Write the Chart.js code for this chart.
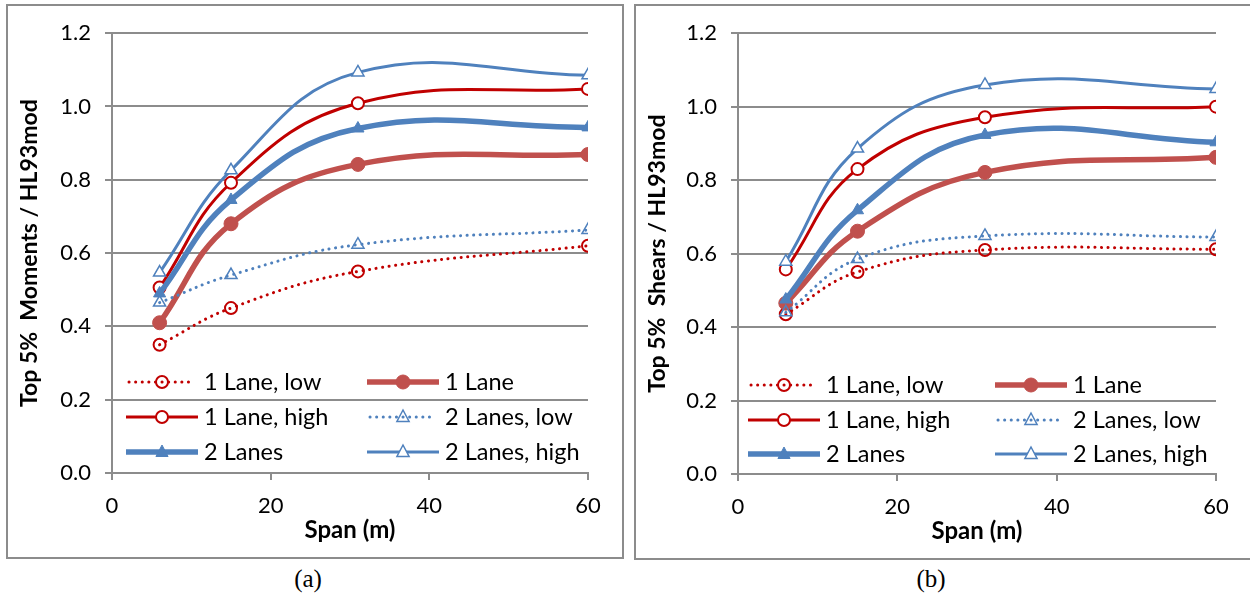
<!DOCTYPE html>
<html>
<head>
<meta charset="utf-8">
<script src="https://cdn.jsdelivr.net/npm/chart.js@4.4.1/dist/chart.umd.min.js"></script>
<style>
  body { margin: 0; background: #fff; width: 1250px; height: 605px; position: relative; overflow: hidden; font-family: Lato, sans-serif; }
  .panel { position: absolute; border: 2px solid #8c8c8c; box-sizing: content-box; }
  .panel canvas { display: block; }
  .cap { position: absolute; font-family: "Liberation Serif", serif; font-size: 25px; transform: translateX(-50%); }
  .lg { position: absolute; font-size: 23.5px; line-height: 26px; white-space: nowrap; color: #000; }
  .sw { position: absolute; }
</style>
</head>
<body>
<div class="panel" id="p1" style="left:6px; top:4px; width:614px; height:551px;"><canvas id="momentsChart"></canvas></div>
<div class="panel" id="p2" style="left:634px; top:4px; width:620px; height:552px;"><canvas id="shearsChart"></canvas></div>
<div class="cap" style="left:308px; top:565px;">(a)</div>
<div class="cap" style="left:931px; top:565px;">(b)</div>
<script>
// spans (m)
const spans = [6, 15, 31, 60];
const xTicks = [0, 20, 40, 60];
const yTicks = [0, 0.2, 0.4, 0.6, 0.8, 1.0, 1.2];

const seriesNames = ["1 Lane, low", "1 Lane", "1 Lane, high", "2 Lanes, low", "2 Lanes", "2 Lanes, high"];

// (a) moments
const momLow1 = [0.35, 0.45, 0.55, 0.62];
const mom1 = [0.41, 0.68, 0.842, 0.869];
const momHigh1 = [0.506, 0.792, 1.009, 1.048];
const momLow2 = [0.465, 0.54, 0.623, 0.663];
const mom2 = [0.49, 0.745, 0.94, 0.943];
const momHigh2 = [0.547, 0.826, 1.093, 1.085];

// (b) shears
const shrLow1 = [0.435, 0.55, 0.61, 0.612];
const shr1 = [0.465, 0.661, 0.821, 0.862];
const shrHigh1 = [0.557, 0.83, 0.971, 1.0];
const shrLow2 = [0.44, 0.585, 0.648, 0.645];
const shr2 = [0.475, 0.718, 0.923, 0.903];
const shrHigh2 = [0.578, 0.886, 1.059, 1.048];

const darkRed = "#C00000";
const red = "#C0504D";
const blue = "#4F81BD";
const gridGray = "#8c8c8c";

// line / marker look for each series, in legend order
const looks = [
  { color: darkRed, width: 3, dotted: true, marker: "circle", fill: "rgba(0,0,0,0)", r: 6, bw: 2 },
  { color: red, width: 5.5, dotted: false, marker: "circle", fill: red, r: 7, bw: 1 },
  { color: darkRed, width: 3, dotted: false, marker: "circle", fill: "#fff", r: 6, bw: 2 },
  { color: blue, width: 3, dotted: true, marker: "triangle", fill: "rgba(0,0,0,0)", r: 7, bw: 1.5 },
  { color: blue, width: 5.5, dotted: false, marker: "triangle", fill: blue, r: 7, bw: 1 },
  { color: blue, width: 3, dotted: false, marker: "triangle", fill: "#fff", r: 7, bw: 1.5 },
];

function makeDatasets(seriesList) {
  return seriesList.map((vals, i) => {
    const lk = looks[i];
    return {
      label: seriesNames[i],
      data: spans.map((s, j) => ({ x: s, y: vals[j] })),
      borderColor: lk.color,
      borderWidth: lk.width,
      borderDash: lk.dotted ? [0.1, 6.5] : [],
      borderCapStyle: lk.dotted ? "round" : "butt",
      tension: 0.42,
      fill: false,
      pointStyle: lk.marker,
      pointRadius: lk.r,
      pointBackgroundColor: lk.fill,
      pointBorderColor: lk.color,
      pointBorderWidth: lk.bw,
      order: 6 - i,
    };
  });
}

function makeChart(canvas, seriesList, yTitle, yWidth, padRight) {
  return new Chart(canvas, {
    type: "line",
    data: { datasets: makeDatasets(seriesList) },
    options: {
      animation: false,
      responsive: true,
      maintainAspectRatio: false,
      layout: { padding: { top: 27, right: padRight, bottom: 0, left: 0 } },
      plugins: { legend: { display: false }, tooltip: { enabled: false } },
      scales: {
        x: {
          type: "linear",
          min: 0,
          max: 60,
          afterBuildTicks: (scale) => { scale.ticks = xTicks.map((v) => ({ value: v })); },
          afterFit: (scale) => { scale.height = 84; },
          grid: { drawOnChartArea: false, color: gridGray, lineWidth: 2, tickLength: 7 },
          border: { color: gridGray, width: 2 },
          ticks: { color: "#000", padding: 13, font: { family: "Lato", size: 22 } },
          title: { display: true, text: "Span (m)", color: "#000", padding: { top: 0, bottom: 12 }, font: { family: "Lato", size: 24, weight: "bold" } },
        },
        y: {
          min: 0,
          max: 1.2,
          afterBuildTicks: (scale) => { scale.ticks = yTicks.map((v) => ({ value: v })); },
          afterFit: (scale) => { scale.width = yWidth; },
          grid: { color: gridGray, lineWidth: 2, tickLength: 7 },
          border: { color: gridGray, width: 2 },
          ticks: { color: "#000", padding: 14, font: { family: "Lato", size: 22 }, callback: (v) => Number(v).toFixed(1) },
          title: { display: true, text: yTitle, color: "#000", padding: { top: 8, bottom: 0 }, font: { family: "Lato", size: 23, weight: "bold" } },
        },
      },
    },
  });
}

makeChart(document.getElementById("momentsChart"), [momLow1, mom1, momHigh1, momLow2, mom2, momHigh2], "Top 5%  Moments / HL93mod", 104, 34);
makeChart(document.getElementById("shearsChart"), [shrLow1, shr1, shrHigh1, shrLow2, shr2, shrHigh2], "Top 5%  Shears / HL93mod", 102, 40);

// legends drawn as html, two columns, row-wise in series order
function swatch(lk) {
  const ns = "http://www.w3.org/2000/svg";
  const svg = document.createElementNS(ns, "svg");
  svg.setAttribute("width", "72");
  svg.setAttribute("height", "24");
  const ln = document.createElementNS(ns, "line");
  ln.setAttribute("x1", lk.dotted ? 3 : 0);
  ln.setAttribute("x2", lk.dotted ? 69 : 72);
  ln.setAttribute("y1", 12);
  ln.setAttribute("y2", 12);
  ln.setAttribute("stroke", lk.color);
  ln.setAttribute("stroke-width", lk.width);
  if (lk.dotted) {
    ln.setAttribute("stroke-dasharray", "0.1 6.5");
    ln.setAttribute("stroke-linecap", "round");
  }
  svg.appendChild(ln);
  let mk;
  if (lk.marker === "circle") {
    mk = document.createElementNS(ns, "circle");
    mk.setAttribute("cx", 36);
    mk.setAttribute("cy", 12);
    mk.setAttribute("r", lk.r);
  } else {
    mk = document.createElementNS(ns, "polygon");
    const r = lk.r;
    mk.setAttribute("points", `36,${12 - r} ${36 + r * 0.87},${12 + r * 0.5 + 1} ${36 - r * 0.87},${12 + r * 0.5 + 1}`);
  }
  mk.setAttribute("fill", lk.fill === "rgba(0,0,0,0)" ? "none" : lk.fill);
  mk.setAttribute("stroke", lk.color);
  mk.setAttribute("stroke-width", lk.bw);
  svg.appendChild(mk);
  return svg;
}

function addLegend(cols, rows, textGap) {
  seriesNames.forEach((name, i) => {
    const col = cols[i % 2];
    const rowY = rows[Math.floor(i / 2)];
    const sw = document.createElement("div");
    sw.className = "sw";
    sw.style.left = col + "px";
    sw.style.top = rowY - 12 + "px";
    sw.appendChild(swatch(looks[i]));
    document.body.appendChild(sw);
    const t = document.createElement("div");
    t.className = "lg";
    t.style.left = col + textGap + "px";
    t.style.top = rowY - 14 + "px";
    t.textContent = name;
    document.body.appendChild(t);
  });
}

addLegend([126, 367], [382, 417, 452], 78);
addLegend([748, 995], [385, 420, 454], 78);
</script>
</body>
</html>
